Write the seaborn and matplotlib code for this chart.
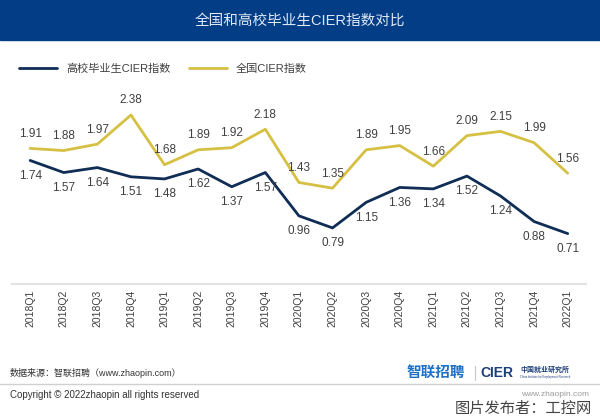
import pandas as pd
import numpy as np
import matplotlib
matplotlib.use('Agg')
import matplotlib.pyplot as plt
import seaborn as sns
from matplotlib.patches import Rectangle
from matplotlib.lines import Line2D

# данные с графика
quarters = ['2018Q1', '2018Q2', '2018Q3', '2018Q4', '2019Q1', '2019Q2', '2019Q3', '2019Q4',
            '2020Q1', '2020Q2', '2020Q3', '2020Q4', '2021Q1', '2021Q2', '2021Q3', '2021Q4', '2022Q1']
grad_cier = [1.74, 1.57, 1.64, 1.51, 1.48, 1.62, 1.37, 1.57,
             0.96, 0.79, 1.15, 1.36, 1.34, 1.52, 1.24, 0.88, 0.71]
national_cier = [1.91, 1.88, 1.97, 2.38, 1.68, 1.89, 1.92, 2.18,
                 1.43, 1.35, 1.89, 1.95, 1.66, 2.09, 2.15, 1.99, 1.56]
series_names = ['高校毕业生CIER指数', '全国CIER指数']

navy = '#0f2d55'
gold = '#d6c043'
txt = '#404040'

sns.set_theme(style='white')
plt.rcParams['font.family'] = ['Liberation Sans', 'Noto Sans CJK SC', 'DejaVu Sans']

df = pd.DataFrame({
    'q': list(range(len(quarters))) * 2,
    'val': grad_cier + national_cier,
    'series': [series_names[0]] * len(quarters) + [series_names[1]] * len(quarters),
})

fig = plt.figure(figsize=(6, 4.2), dpi=100)
ax = fig.add_axes([0.02, 0.3238, 0.957, 0.4395])

sns.lineplot(data=df, x='q', y='val', hue='series', palette=[navy, gold],
             linewidth=2, ax=ax, legend=False)

# подписи значений
for i, v in enumerate(national_cier):
    ax.annotate(f'{v:.2f}', (i, v), xytext=(0, 10.5), textcoords='offset points',
                ha='center', va='center', fontsize=8.5, color=txt)
for i, v in enumerate(grad_cier):
    ax.annotate(f'{v:.2f}', (i, v), xytext=(0, -11), textcoords='offset points',
                ha='center', va='center', fontsize=8.5, color=txt)

ax.set_xlim(-0.54, 16.55)
ax.set_ylim(0, 2.6)
ax.set_xticks(range(len(quarters)))
ax.set_xticklabels(quarters, rotation=90, fontsize=7.5, color=txt)
ax.set_yticks([])
ax.set_xlabel('')
ax.set_ylabel('')
ax.tick_params(axis='x', length=0, pad=4)
for s in ['top', 'right', 'left']:
    ax.spines[s].set_visible(False)
ax.spines['bottom'].set_color('#e3e3e3')
ax.spines['bottom'].set_linewidth(1.5)

# легенда
handles = [Line2D([0], [0], color=navy, lw=2), Line2D([0], [0], color=gold, lw=2)]
fig.legend(handles, series_names, loc='center left', bbox_to_anchor=(15 / 600, 1 - 69 / 420),
           ncol=2, frameon=False, fontsize=8, handlelength=3.4, columnspacing=1.7,
           handletextpad=0.8, labelcolor=txt, borderaxespad=0)

# заголовок на синей плашке
fig.patches.append(Rectangle((0, 1 - 40 / 420), 1, 40 / 420, transform=fig.transFigure,
                             color='#033d85', zorder=0))
fig.text(0.5, 1 - 21 / 420, '全国和高校毕业生CIER指数对比', ha='center', va='center',
         fontsize=10.5, color='#dfe9f6')

# подвал
fig.text(10 / 600, 1 - 373 / 420, '数据来源：智联招聘（www.zhaopin.com）', ha='left', va='center',
         fontsize=6.5, color='#333333')
fig.add_artist(Line2D([0, 1], [1 - 384 / 420] * 2, color='#d0d0d0', lw=1,
                      transform=fig.transFigure))
fig.text(10 / 600, 1 - 395 / 420, 'Copyright © 2022zhaopin all rights reserved', ha='left',
         va='center', fontsize=7, color='#333333')
fig.text(407 / 600, 1 - 373 / 420, '智联招聘', ha='left', va='center', fontsize=10.5,
         fontweight='bold', color='#1f6fc5')
fig.add_artist(Line2D([475 / 600] * 2, [1 - 366 / 420, 1 - 380 / 420], color='#c8c8c8', lw=0.8,
                      transform=fig.transFigure))
fig.text(480 / 600, 1 - 373 / 420, 'CIER', ha='left', va='center', fontsize=10,
         fontweight='bold', color='#1c3f7a')
fig.text(520 / 600, 1 - 370 / 420, '中国就业研究所', ha='left', va='center', fontsize=5,
         fontweight='bold', color='#1c3f7a')
fig.text(520 / 600, 1 - 377 / 420, 'China Institute for Employment Research', ha='left',
         va='center', fontsize=2, color='#1c3f7a')
fig.text(589 / 600, 1 - 395 / 420, 'www.zhaopin.com', ha='right', va='center',
         fontsize=6, color='#9a9a9a')
fig.text(592 / 600, 1 - 409 / 420, '图片发布者：工控网', ha='right', va='center',
         fontsize=11, color='#444444')

fig.savefig('out.png', dpi=100)
